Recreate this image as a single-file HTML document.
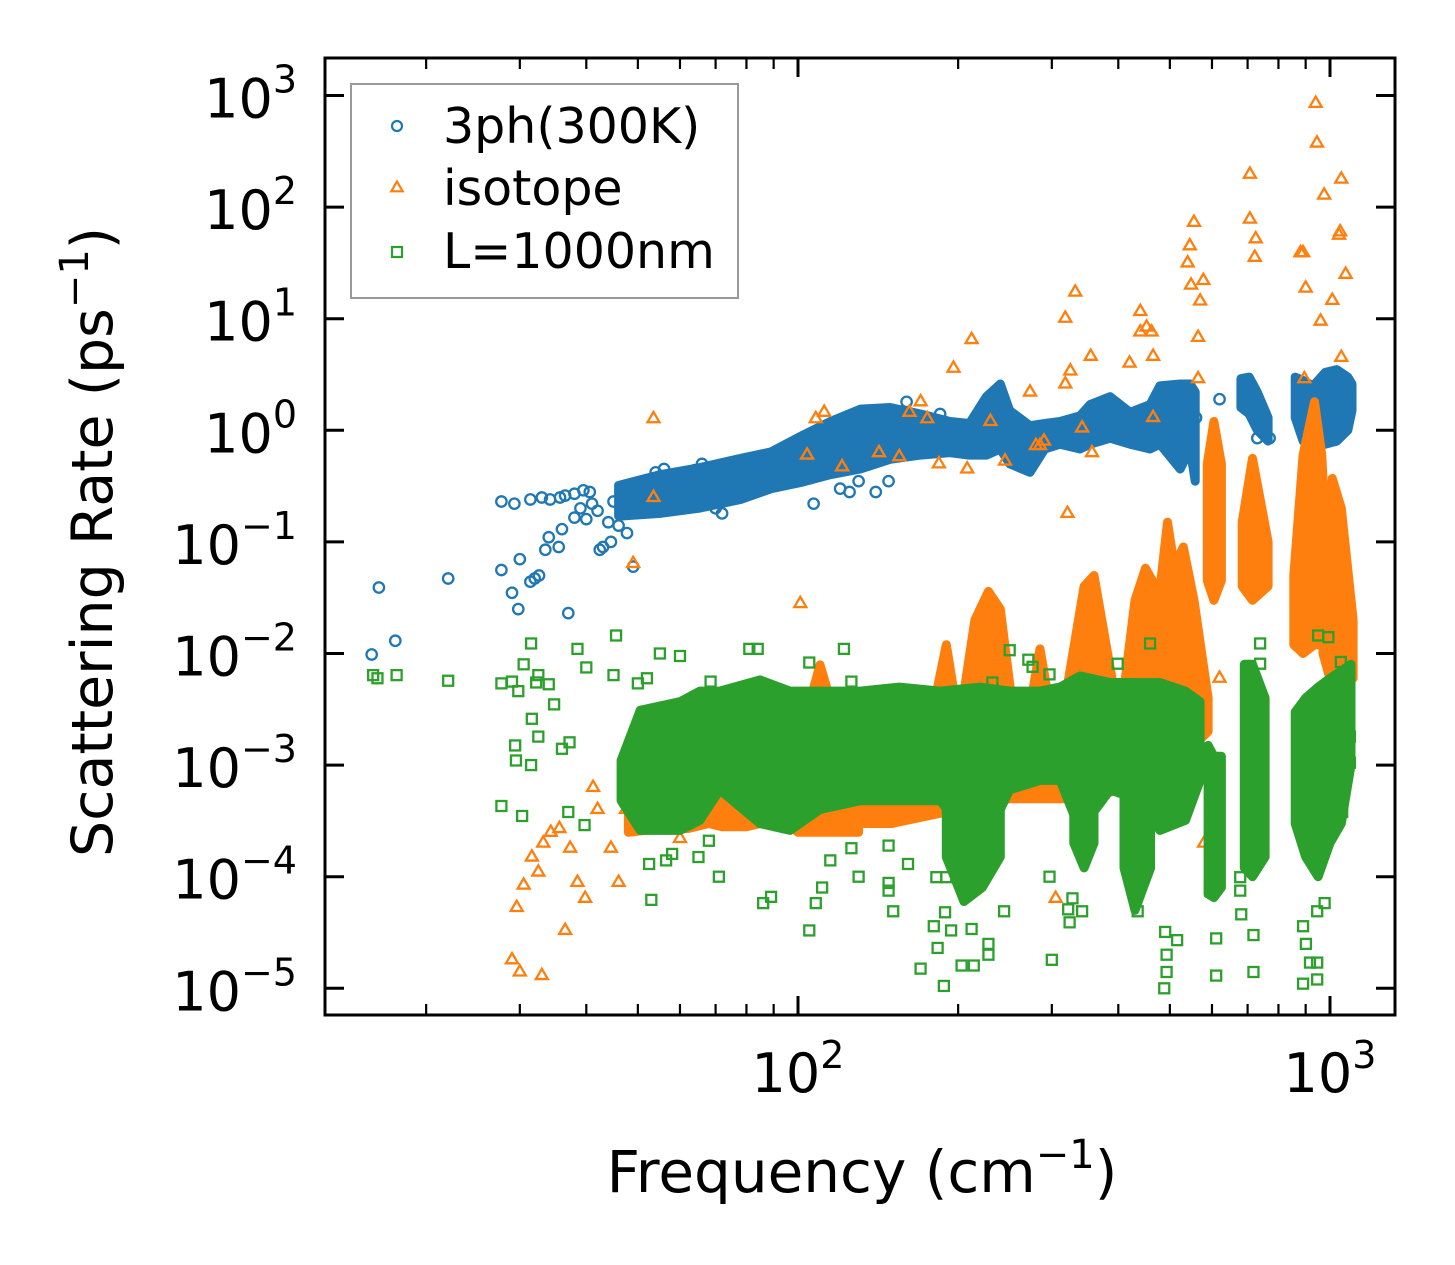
<!DOCTYPE html>
<html><head><meta charset="utf-8"><style>
html,body{margin:0;padding:0;background:#fff;}
svg{display:block;font-family:"DejaVu Sans","Liberation Sans",sans-serif;}
</style></head><body>
<svg id="chart" width="1455" height="1265" viewBox="0 0 1455 1265" xmlns="http://www.w3.org/2000/svg">
<rect x="0" y="0" width="1455" height="1265" fill="#fff"/>
<defs><clipPath id="plotclip"><rect x="325" y="58" width="1070" height="957"/></clipPath></defs>
<g id="series" clip-path="url(#plotclip)"></g>
<g id="axes"></g>
<g>
<rect x="351" y="84" width="387" height="214" fill="#fff" fill-opacity="0.8" stroke="#999" stroke-width="2"/>
<circle cx="397" cy="126" r="5" fill="none" stroke="#1f77b4" stroke-width="2.2"/>
<text x="443" y="143" font-size="49">3ph(300K)</text>
<polygon points="397,181.5 402.7,191.3 391.3,191.3" fill="none" stroke="#ff7f0e" stroke-width="2.2"/>
<text x="443" y="205" font-size="49">isotope</text>
<rect x="392" y="247" width="10" height="10" fill="none" stroke="#2ca02c" stroke-width="2.2"/>
<text x="443" y="268" font-size="49">L=1000nm</text>
</g>
<text x="862" y="1192" font-size="58" text-anchor="middle">Frequency (cm<tspan dy="-24" font-size="40">−1</tspan><tspan dy="24">)</tspan></text>
<text transform="translate(112,542) rotate(-90)" x="0" y="0" font-size="57" text-anchor="middle">Scattering Rate (ps<tspan dy="-24" font-size="40">−1</tspan><tspan dy="24">)</tspan></text>
</svg>
<script>
// ---- data (frequency in cm^-1, rate in ps^-1) ----
const xMajorTicks = [100, 1000];
const xMajorLabels = ["2", "3"];
const xMinorTicks = [20,30,40,50,60,70,80,90,200,300,400,500,600,700,800,900];
const yTicks = [1e3,1e2,1e1,1,1e-1,1e-2,1e-3,1e-4,1e-5];
const yTickExp = ["3","2","1","0","−1","−2","−3","−4","−5"];

const blueFreq = [15.8,16.3,17.5,22,27.7,27.7,29.3,29,29.8,30,31.4,32,32.6,33.5,34,35.5,36,38,37,40.6,42.4,43,44.5,46,47.7,49,38,35.7,34.2,39.5,31.4,33,36.5,39,40,41,42,44,45,48,50,52,54,56,58,60,62,64,66,68,70,72,74,76,79,82,85,88,92,96,105,107,110,114,120,125,130,140,148,160,185,560,730,620,1080,770];
const blueRate = [0.0098,0.039,0.013,0.047,0.23,0.056,0.22,0.035,0.025,0.07,0.044,0.047,0.05,0.085,0.11,0.09,0.13,0.165,0.023,0.28,0.085,0.09,0.1,0.14,0.12,0.06,0.27,0.25,0.24,0.29,0.24,0.25,0.26,0.2,0.16,0.22,0.19,0.15,0.23,0.3,0.26,0.35,0.42,0.45,0.32,0.3,0.36,0.44,0.5,0.22,0.2,0.18,0.28,0.4,0.32,0.5,0.45,0.55,0.38,0.45,0.8,0.22,0.4,0.6,0.3,0.28,0.35,0.28,0.35,1.8,1.4,1.3,0.85,1.9,1.9,0.85];
const blueBandFreq = [
 [46,55,65,78,89,101,115,131,149,170,193,210,226,240,250,273,291,311,339,354,386,421,459,479,523,546,558],
 [680,705,730,765],
 [860,890,930,980,1030,1080,1100]];
const blueBandHi = [
 [0.32,0.40,0.46,0.56,0.64,0.88,1.2,1.55,1.6,1.4,1.2,1.15,2.0,2.6,1.5,1.1,1.15,1.2,1.35,1.7,2.0,1.45,1.7,2.5,2.6,2.6,2.2],
 [2.9,3.0,2.2,1.3],
 [3.0,2.8,2.5,3.3,3.5,3.0,2.6]];
const blueBandLo = [
 [0.17,0.18,0.2,0.24,0.3,0.34,0.4,0.45,0.55,0.6,0.63,0.6,0.6,0.68,0.5,0.42,0.68,0.75,0.68,0.75,0.85,0.75,0.68,0.75,0.45,0.68,0.35],
 [1.6,1.4,1.0,0.8],
 [1.3,0.8,0.7,0.75,0.8,1.0,1.5]];

const orangeX = [29,30,33,36.5,29.6,30.5,32.5,31.6,33.2,34.3,35.6,38.5,39.8,37.3,41.2,42,44.5,46,47.5,49,53.5,53.5,60,104,108,112,101,121,940,945,707,1050,975,707,725,722,1045,1040,880,890,1070,900,1010,960,1050,895,555,545,540,548,578,570,565,565,440,452,440,462,465,420,465,332,318,355,325,318,342,357,212,196,170,162,175,142,155,184,208,230,245,273,280,285,290,321,620,580,305,880];
const orangeRate = [1.8e-5,1.4e-5,1.3e-5,3.3e-5,5.3e-5,8.4e-5,1.1e-4,1.5e-4,2.0e-4,2.5e-4,2.7e-4,8.9e-5,6.4e-5,1.8e-4,6.3e-4,4.0e-4,1.8e-4,8.9e-5,4e-4,0.064,0.25,1.27,2.2e-4,0.6,1.27,1.45,0.028,0.47,850,375,197,178,128,78,52,35.5,60,56,39,39,25,18.8,14.6,9.5,4.5,2.9,73,45,31.6,20,22,14.4,6.8,2.9,11.6,8.4,7.6,7.6,4.6,4.0,1.3,17.3,10.1,4.6,3.4,2.6,1.05,0.63,6.5,3.6,1.8,1.45,1.27,0.63,0.58,0.5,0.45,1.2,0.53,2.2,0.73,0.73,0.8,0.18,0.006,2e-4,6.4e-5,3.2e-4];
const orangeBandFreq = [
 [48,55,62,68,72,76,80,85,90,95,100,110,120,130],
 [100,150,200,250,300,350,400,450,500,560],
 [100,110,122],[176,190,202],[200,215,228,240,255],[268,285,303],[315,345,360,395],
 [405,430,450,470,495],[472,495,510,530,555,590],[588,605,625],[684,715,765],
 [855,890,935,965,990],[970,1010,1050,1105]];
const orangeBandHi = [
 [5e-4,8e-4,1e-3,9e-4,5e-4,6e-4,1e-3,1.3e-3,1.2e-3,8e-4,1e-3,1.5e-3,1.5e-3,1.2e-3],
 [1.5e-3,2e-3,2e-3,2e-3,2.5e-3,3e-3,3e-3,3e-3,3e-3,2e-3],
 [1.5e-3,7.9e-3,1.5e-3],[2e-3,0.012,2e-3],[2e-3,0.02,0.036,0.025,2.5e-3],[2e-3,0.011,2e-3],[3e-3,0.04,0.05,4e-3],
 [3e-3,0.03,0.058,0.04,4e-3],[0.02,0.15,0.06,0.09,0.03,0.004],[0.5,1.2,0.5],[0.15,0.56,0.1],
 [0.05,0.6,1.8,0.6,0.05],[0.05,0.37,0.2,0.02]];
const orangeBandLo = [
 [2.5e-4,2.7e-4,2.7e-4,3e-4,2.8e-4,2.8e-4,2.8e-4,3e-4,3e-4,3e-4,2.5e-4,2.5e-4,2.5e-4,2.5e-4],
 [3e-4,3e-4,4e-4,5e-4,5e-4,5e-4,6e-4,6e-4,6e-4,8e-4],
 [5e-4,5e-4,5e-4],[5e-4,5e-4,5e-4],[7e-4,7e-4,7e-4,7e-4,7e-4],[7e-4,7e-4,7e-4],[1e-3,1e-3,1e-3,1e-3],
 [1e-3,1e-3,1e-3,1e-3,1e-3],[1e-3,1e-3,1e-3,1e-3,1.5e-3,2e-3],[0.045,0.03,0.045],[0.04,0.03,0.04],
 [0.012,0.01,0.012,0.012,0.012],[0.01,0.005,0.005,0.006]];

const greenFreq = [15.9,16.2,17.6,22,27.7,29,30.5,31.5,29.8,32.5,34,32.2,29.4,29.5,31.5,27.7,30.3,31.6,32.5,34.8,36,37.2,38.5,45.5,55,60,40,45,50,52,37,39.7,53,52.5,56.5,58,65,68,71,89,86,105,111,108,126,115,122,81,84,105,126,68.5,459,739,950,993,250,271,276,297,232,399,739,1048,611,611,718,718,890,946,917,946,488,493,493,490,516,188,170,203,214,183,180,194,212,228,228,300,151,148,148,161,189,297,328,322,342,324,435,595,678,681,678,901,890,946,977,593,1090,1090,1054,583,310,148,130,182,190,244];
const greenRate = [6.4e-3,6e-3,6.4e-3,5.7e-3,5.4e-3,5.6e-3,8e-3,0.0123,4.6e-3,6.4e-3,5.3e-3,5.5e-3,1.5e-3,1.1e-3,1e-3,4.3e-4,3.5e-4,2.6e-3,1.8e-3,3.5e-3,1.4e-3,1.6e-3,0.011,0.0145,0.010,9.5e-3,7.5e-3,6.4e-3,5.4e-3,6e-3,3.8e-4,2.9e-4,6.2e-5,1.3e-4,1.4e-4,1.6e-4,1.5e-4,2.1e-4,1e-4,6.6e-5,5.8e-5,3.3e-5,8e-5,5.8e-5,1.8e-4,1.4e-4,0.011,0.011,0.011,8.3e-3,5.6e-3,5.6e-3,0.0123,0.0123,0.0145,0.014,0.0107,8.8e-3,7.6e-3,6.5e-3,5.5e-3,8.1e-3,8.1e-3,8.4e-3,2.8e-5,1.3e-5,1.4e-5,3e-5,1.1e-5,1.2e-5,1.7e-5,1.7e-5,1e-5,1.4e-5,2e-5,3.2e-5,2.7e-5,1.05e-5,1.5e-5,1.6e-5,1.6e-5,2.3e-5,3.6e-5,3.3e-5,3.4e-5,2.5e-5,2e-5,1.8e-5,4.9e-5,8.8e-5,7.5e-5,1.3e-4,4.8e-5,1e-4,6.4e-5,5.1e-5,4.9e-5,3.9e-5,4.9e-5,7.5e-5,7.5e-5,4.6e-5,9.9e-5,2.5e-5,3.6e-5,4.9e-5,5.8e-5,1e-3,1.05e-3,1.8e-3,3.8e-4,1e-3,8e-4,1.9e-4,1e-4,9.9e-5,9.9e-5,4.9e-5];
const greenBandFreq = [
 [46.5,50.5,60,65.4,71.3,84.8,96.6,110,131,155,185,220,250,285,311,339,386,440,479,535,570],
 [590,605,625],[690,715,755],[860,900,950,1000,1050,1095],
 [190,205,222,240],[410,430,460],[330,345,360]];
const greenBandHi = [
 [1.1e-3,3.1e-3,3.7e-3,4.6e-3,4.6e-3,5.8e-3,4.6e-3,4.6e-3,4.6e-3,5e-3,4.6e-3,5e-3,4.6e-3,4.6e-3,5e-3,6.3e-3,5.5e-3,5.5e-3,5.5e-3,4.6e-3,3.7e-3],
 [1.5e-3,1.2e-3,1.2e-3],[8e-3,8e-3,4e-3],[3e-3,4e-3,5e-3,6e-3,7e-3,8e-3],
 [1e-3,1e-3,1e-3,1e-3],[1e-3,1e-3,1e-3],[1e-3,1e-3,1e-3]];
const greenBandLo = [
 [4.8e-4,2.6e-4,2.6e-4,3.2e-4,6e-4,3e-4,2.6e-4,4e-4,4.8e-4,4.8e-4,4.8e-4,1.7e-4,6e-4,7.3e-4,7.3e-4,2.6e-4,6e-4,4.8e-4,2.6e-4,3.2e-4,7.3e-4],
 [7e-5,6.5e-5,8e-5],[1.2e-4,1e-4,1.5e-4],[3e-4,1.5e-4,1e-4,2e-4,3e-4,1e-3],
 [1.5e-4,6e-5,8e-5,1.5e-4],[1.2e-4,5e-5,1.2e-4],[2e-4,1.2e-4,2e-4]];

// ---- scales ----
const X = f => 798 + 532 * (Math.log10(f) - 2);
const Y = r => 95.5 + 111.6 * (3 - Math.log10(r));
const NS = "http://www.w3.org/2000/svg";
const series = document.getElementById("series");
const axes = document.getElementById("axes");
function mk(tag, attrs, parent) {
  const el = document.createElementNS(NS, tag);
  for (const k in attrs) el.setAttribute(k, attrs[k]);
  parent.appendChild(el);
  return el;
}
function bands(freqs, his, los, color, name) {
  const g = mk("g", {}, series);
  
  
  freqs.forEach((fa, i) => {
    const top = fa.map((f, j) => X(f).toFixed(1) + "," + Y(his[i][j]).toFixed(1));
    const bot = fa.map((f, j) => X(f).toFixed(1) + "," + Y(los[i][j]).toFixed(1)).reverse();
    const p = mk("polygon", {points: top.concat(bot).join(" "), fill: color, stroke: color, "stroke-width": 9, "stroke-linejoin": "round"}, g);
    
    
  });
}
function points(fs, rs, color, shape, name) {
  const g = mk("g", {fill: "none", stroke: color, "stroke-width": 2.3}, series);
  
  
  fs.forEach((f, i) => {
    const x = X(f), y = Y(rs[i]);
    let el;
    if (shape === "circle") el = mk("circle", {cx: x, cy: y, r: 5.2}, g);
    else if (shape === "tri") el = mk("polygon", {points: `${x},${y-6.8} ${x+6},${y+3.5} ${x-6},${y+3.5}`}, g);
    else el = mk("rect", {x: x-5, y: y-5, width: 10, height: 10}, g);
    
    
  });
}
// draw order: blue, orange, green
bands(blueBandFreq, blueBandHi, blueBandLo, "#1f77b4", "3ph");
points(blueFreq, blueRate, "#1f77b4", "circle", "3ph");
bands(orangeBandFreq, orangeBandHi, orangeBandLo, "#ff7f0e", "isotope");
points(orangeX, orangeRate, "#ff7f0e", "tri", "isotope");
bands(greenBandFreq, greenBandHi, greenBandLo, "#2ca02c", "boundary");
points(greenFreq, greenRate, "#2ca02c", "square", "boundary");

// ---- axes ----
const frame = mk("rect", {x: 325, y: 58, width: 1070, height: 957, fill: "none", stroke: "#000", "stroke-width": 3}, axes);


xMajorTicks.forEach((t, i) => {
  const x = X(t);
  mk("line", {x1: x, x2: x, y1: 1015, y2: 996, stroke: "#000", "stroke-width": 3}, axes);
  mk("line", {x1: x, x2: x, y1: 58, y2: 77, stroke: "#000", "stroke-width": 3}, axes);
  const tx = mk("text", {x: x, y: 1092, "font-size": 54, "text-anchor": "middle"}, axes);
  
  
  tx.innerHTML = `10<tspan dy="-24" font-size="38">${xMajorLabels[i]}</tspan>`;
});
xMinorTicks.forEach(t => {
  const x = X(t);
  mk("line", {x1: x, x2: x, y1: 1015, y2: 1004, stroke: "#000", "stroke-width": 2.2}, axes);
  mk("line", {x1: x, x2: x, y1: 58, y2: 69, stroke: "#000", "stroke-width": 2.2}, axes);
});
yTicks.forEach((t, i) => {
  const y = Y(t);
  mk("line", {x1: 325, x2: 344, y1: y, y2: y, stroke: "#000", "stroke-width": 3}, axes);
  mk("line", {x1: 1395, x2: 1376, y1: y, y2: y, stroke: "#000", "stroke-width": 3}, axes);
  const tx = mk("text", {x: 297, y: y + 22, "font-size": 54, "text-anchor": "end"}, axes);
  
  
  tx.innerHTML = `10<tspan dy="-25" font-size="38">${yTickExp[i]}</tspan>`;
});
</script>
</body></html>
